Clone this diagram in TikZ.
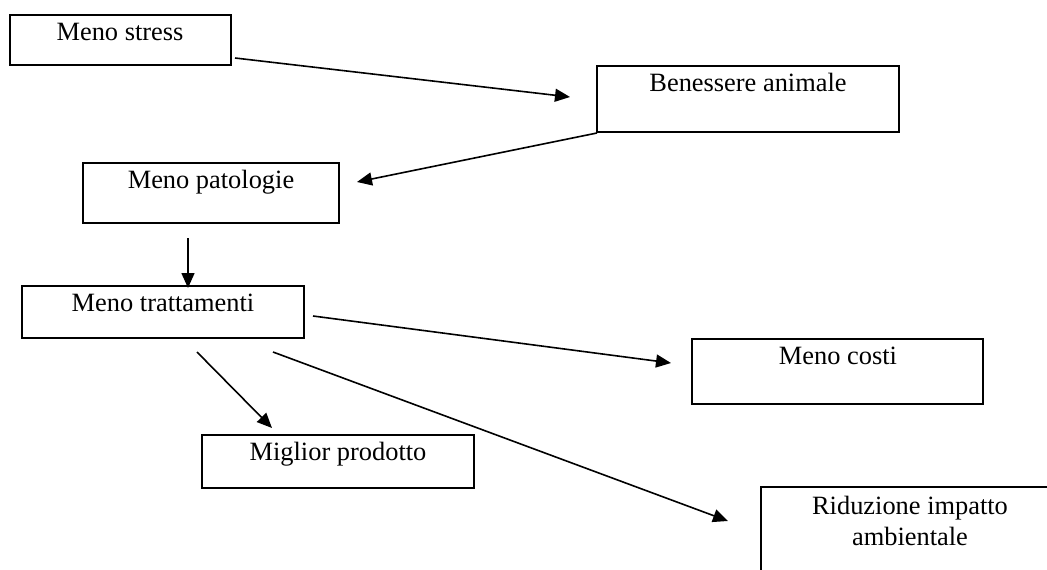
\documentclass[tikz,border=0pt]{standalone}
\usepackage{fontspec}
\setmainfont{Liberation Serif}
\usetikzlibrary{arrows.meta}
\begin{document}
\begin{tikzpicture}[x=1pt,y=-1pt,
  boxstyle/.style={draw=black,line width=2.2pt},
  lbl/.style={anchor=base,font=\fontsize{26.4}{31}\selectfont,inner sep=0pt,align=center},
  conn/.style={line width=1.6pt,-{Triangle[length=15pt,width=13pt]}}]
\useasboundingbox (0,0) rectangle (1047,570);
\begin{scope}
\clip (0,0) rectangle (1047,570);
% boxes
\draw[boxstyle] (10,15) rectangle (231,65);
\draw[boxstyle] (597,66) rectangle (899,132);
\draw[boxstyle] (83,163) rectangle (339,223);
\draw[boxstyle] (22,286) rectangle (304,338);
\draw[boxstyle] (692,339) rectangle (983,404);
\draw[boxstyle] (202,435) rectangle (474,488);
\draw[boxstyle] (761,487) rectangle (1070,600);
% labels
\node[lbl] (stress) at (120,40) {Meno stress};
\node[lbl] (benessere) at (748,91) {Benessere animale};
\node[lbl] (patologie) at (211,188) {Meno patologie};
\node[lbl] (trattamenti) at (163,311) {Meno trattamenti};
\node[lbl] (costi) at (838,364) {Meno costi};
\node[lbl] (prodotto) at (338,460) {Miglior prodotto};
\node[lbl] (riduzione) at (910,545) {Riduzione impatto\\ambientale};
% connector ends
\coordinate (a1) at (235,58);   \coordinate (a2) at (570,97);
\coordinate (b1) at (597,133);  \coordinate (b2) at (357,182);
\coordinate (c1) at (188,238);  \coordinate (c2) at (188,288);
\coordinate (d1) at (313,316);  \coordinate (d2) at (671,363);
\coordinate (e1) at (197,352);  \coordinate (e2) at (272,428);
\coordinate (f1) at (273,352);  \coordinate (f2) at (728,521);
\draw[conn] (a1) -- (a2);
\draw[conn] (b1) -- (b2);
\draw[conn] (c1) -- (c2);
\draw[conn] (d1) -- (d2);
\draw[conn] (e1) -- (e2);
\draw[conn] (f1) -- (f2);
\end{scope}
\end{tikzpicture}
\end{document}
